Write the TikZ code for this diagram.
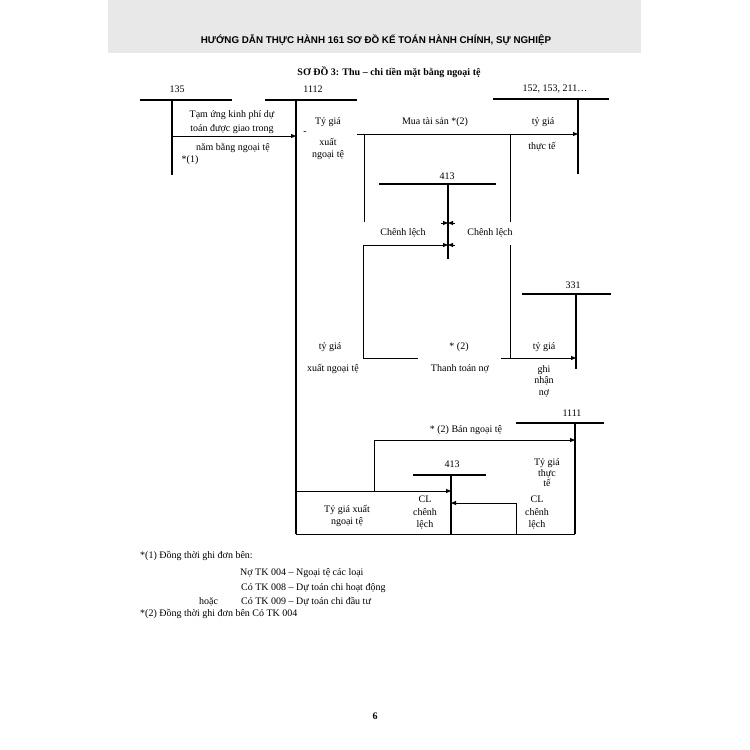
\documentclass[tikz,border=0pt]{standalone}
\usepackage{fontspec}
\setmainfont{Liberation Serif}
\newfontfamily\headfont{Liberation Sans}
\usetikzlibrary{arrows.meta}
\begin{document}
\begin{tikzpicture}[x=1pt,y=-1pt,
  ln/.style={line width=0.9pt, black},
  acc/.style={line width=1.1pt, black},
  arr/.style={ln,-{Triangle[length=5pt,width=4pt]}},
  lbl/.style={font=\fontsize{10}{12}\selectfont, inner sep=0pt, align=center},
  num/.style={font=\fontsize{10}{12}\selectfont, inner sep=0pt},
  foot/.style={font=\fontsize{10}{12}\selectfont, inner sep=0pt, anchor=base west},
]
\useasboundingbox (0,0) rectangle (750,750);
\fill[white] (0,0) rectangle (750,750);
\fill[gray!18] (108,0) rectangle (641,53);
\node[font=\headfont\bfseries\fontsize{9.8}{11}\selectfont, inner sep=0pt] (head) at (376,40) {HƯỚNG DẪN THỰC HÀNH 161 SƠ ĐỒ KẾ TOÁN HÀNH CHÍNH, SỰ NGHIỆP};
\node[font=\bfseries\fontsize{10}{12}\selectfont, inner sep=0pt] (title) at (389,72) {SƠ ĐỒ 3: Thu -- chi tiền mặt bằng ngoại tệ};

% account coordinates
\coordinate (t135) at (172,100); \coordinate (b135) at (172,175);
\coordinate (l135) at (140,100); \coordinate (r135) at (232,100);
\coordinate (t1112) at (296,100); \coordinate (b1112) at (296,534);
\coordinate (l1112) at (265,100); \coordinate (r1112) at (357,100);
\coordinate (t152) at (578,99); \coordinate (b152) at (578,174);
\coordinate (l152) at (493,99); \coordinate (r152) at (609,99);
\coordinate (t413u) at (448,184); \coordinate (b413u) at (448,259);
\coordinate (l413u) at (379,184); \coordinate (r413u) at (496,184);
\coordinate (t331) at (576,294); \coordinate (b331) at (576,369);
\coordinate (l331) at (522,294); \coordinate (r331) at (611,294);
\coordinate (t1111) at (575,423); \coordinate (b1111) at (575,534);
\coordinate (l1111) at (516,423); \coordinate (r1111) at (604,423);
\coordinate (t413l) at (451,475); \coordinate (b413l) at (451,535);
\coordinate (l413l) at (413,475); \coordinate (r413l) at (486,475);

% T accounts
\draw[acc] (l135) -- (r135) (t135) -- (b135);
\draw[acc] (l1112) -- (r1112) (t1112) -- (b1112);
\draw[acc] (l152) -- (r152) (t152) -- (b152);
\draw[acc] (l413u) -- (r413u) (t413u) -- (b413u);
\draw[acc] (l331) -- (r331) (t331) -- (b331);
\draw[acc] (l1111) -- (r1111) (t1111) -- (b1111);
\draw[acc] (l413l) -- (r413l) (t413l) -- (b413l);

% account labels
\node[num] (n135) at (177,89) {135};
\node[num] (n1112) at (313,89) {1112};
\node[num] (n152) at (555,89) {152, 153, 211…};
\node[num] (n413u) at (447,176) {413};
\node[num] (n331) at (573,285) {331};
\node[num] (n1111) at (572,413) {1111};
\node[num] (n413l) at (452,464) {413};

% connectors
\coordinate (s1) at (172,136);
\draw[arr] (s1) -- (s1 -| t1112);
\coordinate (s2) at (357,134);
\draw[arr] (s2) -- (s2 -| t152);
\coordinate (v1a) at (364,134); \coordinate (v1b) at (364,222);
\draw[ln] (v1a) -- (v1b);
\coordinate (v2a) at (510,134); \coordinate (v2b) at (510,222);
\draw[ln] (v2a) -- (v2b);
\coordinate (h1L) at (441,223); \coordinate (h1R) at (455,223);
\draw[arr] (h1L) -- (h1L -| t413u);
\draw[arr] (h1R) -- (h1R -| t413u);
\coordinate (v3a) at (363,358); \coordinate (v3b) at (363,245);
\draw[arr] (v3a) -- (v3b) -- (v3b -| t413u);
\coordinate (h2R) at (455,245);
\draw[arr] (h2R) -- (h2R -| t413u);
\coordinate (v4a) at (510,245); \coordinate (v4b) at (510,358);
\draw[ln] (v4a) -- (v4b);
\coordinate (pay1) at (418,358);
\draw[ln] (v3a) -- (pay1);
\coordinate (pay2) at (501,358);
\draw[arr] (pay2) -- (pay2 -| t331);
\coordinate (sl1) at (374,491); \coordinate (sl2) at (374,440);
\draw[arr] (sl1) -- (sl2) -- (sl2 -| t1111);
\coordinate (bt1) at (296,491);
\draw[arr] (bt1) -- (bt1 -| t413l);
\coordinate (cl1) at (516,534); \coordinate (cl2) at (516,503);
\draw[arr] (cl1) -- (cl2) -- (cl2 -| t413l);
\draw[ln] (b1112) -- (b1111);

% labels
\node[lbl, font=\fontsize{10}{14}\selectfont] (x1) at (232,122) {Tạm ứng kinh phí dự\\toán được giao trong};
\node[lbl] (x2) at (233,148) {năm bằng ngoại tệ};
\node[lbl] (x3) at (190,160) {*(1)};
\node[lbl] (dash) at (305,133) {-};
\node[lbl] (x4) at (328,122) {Tỷ giá};
\node[lbl, font=\fontsize{10}{12}\selectfont] (x5) at (328,149) {xuất\\ngoại tệ};
\node[lbl] (x6) at (435,122) {Mua tài sản *(2)};
\node[lbl] (x7) at (543,122) {tỷ giá};
\node[lbl] (x8) at (542,147) {thực tế};
\node[lbl] (x9) at (403,233) {Chênh lệch};
\node[lbl] (x10) at (490,233) {Chênh lệch};
\node[lbl] (x11) at (330,347) {tỷ giá};
\node[lbl] (x12) at (333,369) {xuất ngoại tệ};
\node[lbl] (x13) at (459,347) {* (2)};
\node[lbl] (x14) at (460,369) {Thanh toán nợ};
\node[lbl] (x15) at (544,347) {tỷ giá};
\node[lbl, font=\fontsize{10}{11.5}\selectfont] (x16) at (544,381) {ghi\\nhận\\nợ};
\node[lbl] (x17) at (466,430) {* (2) Bán ngoại tệ};
\node[lbl, font=\fontsize{10}{10.5}\selectfont] (x18) at (547,473) {Tỷ giá\\thực\\tế};
\node[lbl, font=\fontsize{10}{12}\selectfont] (x19) at (347,516) {Tỷ giá xuất\\ngoại tệ};
\node[lbl, font=\fontsize{10}{12.5}\selectfont] (x20) at (425,513) {CL\\chênh\\lệch};
\node[lbl, font=\fontsize{10}{12.5}\selectfont] (x21) at (537,513) {CL\\chênh\\lệch};

% footnotes
\node[foot] (f1) at (140,558) {*(1) Đồng thời ghi đơn bên:};
\node[foot] (f2) at (240,575) {Nợ TK 004 -- Ngoại tệ các loại};
\node[foot] (f3) at (241,590) {Có TK 008 -- Dự toán chi hoạt động};
\node[foot] (f4) at (199,604) {hoặc};
\node[foot] (f5) at (241,604) {Có TK 009 -- Dự toán chi đầu tư};
\node[foot] (f6) at (140,616) {*(2) Đồng thời ghi đơn bên Có TK 004};

\node[font=\bfseries\fontsize{10}{12}\selectfont, inner sep=0pt] (page) at (375,716) {6};
\end{tikzpicture}
\end{document}
